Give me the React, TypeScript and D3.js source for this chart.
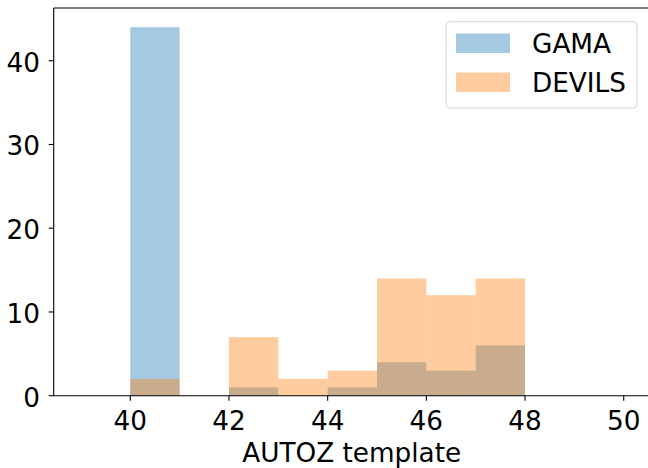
import React, { useEffect, useRef } from "react";
import * as d3 from "d3";

const binEdges = [40, 41, 42, 43, 44, 45, 46, 47, 48];
const gamaCounts = [44, 0, 1, 0, 1, 4, 3, 6];
const devilsCounts = [2, 0, 7, 2, 3, 14, 12, 14];
const xTicks = [40, 42, 44, 46, 48, 50];
const yTicks = [0, 10, 20, 30, 40];
const seriesNames = ["GAMA", "DEVILS"];
const seriesColors = ["#1f77b4", "#ff7f0e"];

const W = 648;
const H = 468;
const L = 53.7;
const R = 651;
const T = 8;
const B = 395.7;
const FONT = "DejaVu Sans, sans-serif";
const FS = 26.3;

export default function App() {
  const ref = useRef<SVGSVGElement>(null);
  useEffect(() => {
    document.body.style.margin = "0";
    const svg = d3.select(ref.current);
    svg.selectAll("*").remove();
    const x = d3.scaleLinear().domain([38.448, 50.553]).range([L, R]);
    const y = d3.scaleLinear().domain([0, 46.3]).range([B, T]);

    const series = [gamaCounts, devilsCounts];
    series.forEach((counts, si) => {
      svg
        .append("g")
        .selectAll("rect")
        .data(counts.map((c, i) => ({ c, x0: binEdges[i], x1: binEdges[i + 1] })).filter((d) => d.c > 0))
        .join("rect")
        .attr("x", (d) => x(d.x0))
        .attr("width", (d) => x(d.x1) - x(d.x0))
        .attr("y", (d) => y(d.c))
        .attr("height", (d) => y(0) - y(d.c))
        .attr("fill", seriesColors[si])
        .attr("fill-opacity", 0.4);
    });

    // spines
    svg.append("line").attr("x1", L).attr("x2", L).attr("y1", T).attr("y2", B).attr("stroke", "black").attr("stroke-width", 1.1);
    svg.append("line").attr("x1", L).attr("x2", R).attr("y1", B).attr("y2", B).attr("stroke", "black").attr("stroke-width", 1.1);
    svg.append("line").attr("x1", L).attr("x2", R).attr("y1", T).attr("y2", T).attr("stroke", "black").attr("stroke-width", 1.1);
    svg.append("line").attr("x1", R).attr("x2", R).attr("y1", T).attr("y2", B).attr("stroke", "black").attr("stroke-width", 1.1);

    // x ticks
    const gx = svg.append("g");
    xTicks.forEach((t) => {
      gx.append("line").attr("x1", x(t)).attr("x2", x(t)).attr("y1", B).attr("y2", B + 5).attr("stroke", "black").attr("stroke-width", 1.1);
      gx.append("text").attr("x", x(t)).attr("y", 429.5).attr("text-anchor", "middle")
        .attr("font-family", FONT).attr("font-size", FS).attr("fill", "black").text(String(t));
    });
    const gy = svg.append("g");
    yTicks.forEach((t) => {
      gy.append("line").attr("x1", L - 5).attr("x2", L).attr("y1", y(t)).attr("y2", y(t)).attr("stroke", "black").attr("stroke-width", 1.1);
      gy.append("text").attr("x", 40).attr("y", y(t) + 10.8).attr("text-anchor", "end")
        .attr("font-family", FONT).attr("font-size", FS).attr("fill", "black").text(String(t));
    });
    svg.append("text").attr("x", 351.7).attr("y", 461.7).attr("text-anchor", "middle")
      .attr("font-family", FONT).attr("font-size", FS).attr("fill", "black").text("AUTOZ template");

    // legend
    const lg = svg.append("g");
    lg.append("rect").attr("x", 446).attr("y", 21.7).attr("width", 191).attr("height", 86.3).attr("rx", 4)
      .attr("fill", "white").attr("fill-opacity", 0.8).attr("stroke", "#d6d6d6").attr("stroke-width", 1);
    const rows = [
      { y0: 33.5, h: 19.5, base: 53.3 },
      { y0: 72.5, h: 19.5, base: 91.7 },
    ];
    seriesNames.forEach((n, i) => {
      lg.append("rect").attr("x", 456).attr("y", rows[i].y0).attr("width", 54).attr("height", rows[i].h)
        .attr("fill", seriesColors[i]).attr("fill-opacity", 0.4);
      lg.append("text").attr("x", 532).attr("y", rows[i].base).attr("font-family", FONT).attr("font-size", FS)
        .attr("fill", "black").text(n);
    });
  }, []);
  return <svg ref={ref} width={W} height={H} style={{ display: "block", position: "absolute", left: 0, top: 0 }} />;
}
